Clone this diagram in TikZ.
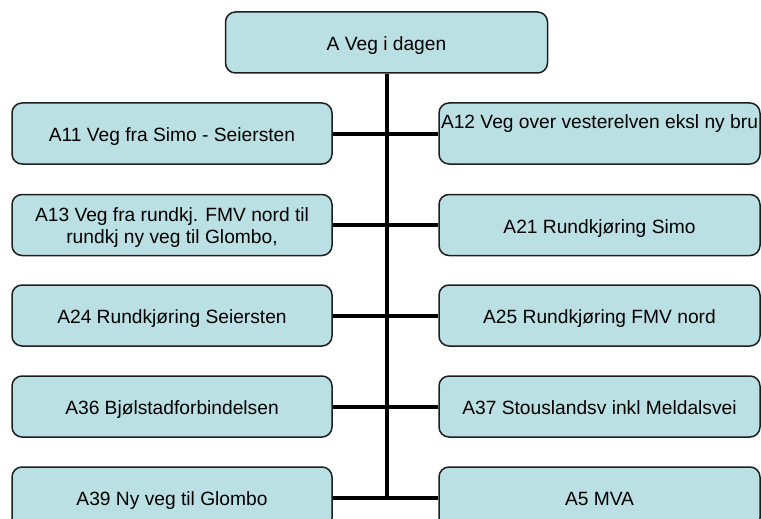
\documentclass[tikz,border=0pt]{standalone}
\usepackage{fontspec}
\setmainfont{Liberation Sans}
\usetikzlibrary{backgrounds}
\definecolor{boxfill}{RGB}{187,224,227}
\definecolor{boxline}{RGB}{30,30,30}
\begin{document}
\begin{tikzpicture}[x=1pt,y=-1pt,
  txt/.style={font=\fontsize{19.2}{21.6}\selectfont, text=black},
  frame/.style={draw=boxline, line width=1.5pt, fill=boxfill,
    rounded corners=10pt, minimum width=320pt, minimum height=61pt,
    inner sep=0pt},
  box/.style={txt, frame, text height=17.6pt, text depth=1.2pt},
  link/.style={line width=4pt, draw=black}]
\useasboundingbox (0,0) rectangle (761,519);
\clip (0,0) rectangle (761,519);

% root
\node[box, minimum width=322pt] (top) at (386.5,42.5) {A Veg i dagen};

% left column
\node[box] (a11) at (172,133.5) {A11 Veg fra Simo - Seiersten};
\node[frame] (a13) at (172,225) {};
\node[txt, align=center, inner sep=0pt] (a13t) at ([yshift=-2.5pt]a13.center)
  {A13 Veg fra rundkj. FMV nord til\\rundkj ny veg til Glombo,};
\node[box] (a24) at (172,315.5) {A24 Rundkjøring Seiersten};
\node[box] (a36) at (172,406.5) {A36 Bjølstadforbindelsen};
\node[box] (a39) at (172,497.5) {A39 Ny veg til Glombo};

% right column
\node[frame, minimum width=321pt] (a12) at (599.5,133.5) {};
\node[txt, anchor=base, inner sep=0pt, yshift=-26.3pt] (a12t) at (a12.north)
  {A12 Veg over vesterelven eksl ny bru};
\node[box, minimum width=321pt] (a21) at (599.5,225) {A21 Rundkjøring Simo};
\node[box, minimum width=321pt] (a25) at (599.5,315.5) {A25 Rundkjøring FMV nord};
\node[box, minimum width=321pt] (a37) at (599.5,406.5) {A37 Stouslandsv inkl Meldalsvei};
\node[box, minimum width=321pt] (a5) at (599.5,497.5) {A5 MVA};

% connectors
\begin{scope}[on background layer]
  \draw[link] (top.south) -- (top.south |- a39.east);
  \draw[link] (a11.east) -- (a12.west);
  \draw[link] (a13.east) -- (a21.west);
  \draw[link] (a24.east) -- (a25.west);
  \draw[link] (a36.east) -- (a37.west);
  \draw[link] (a39.east) -- (a5.west);
\end{scope}
\end{tikzpicture}
\end{document}
